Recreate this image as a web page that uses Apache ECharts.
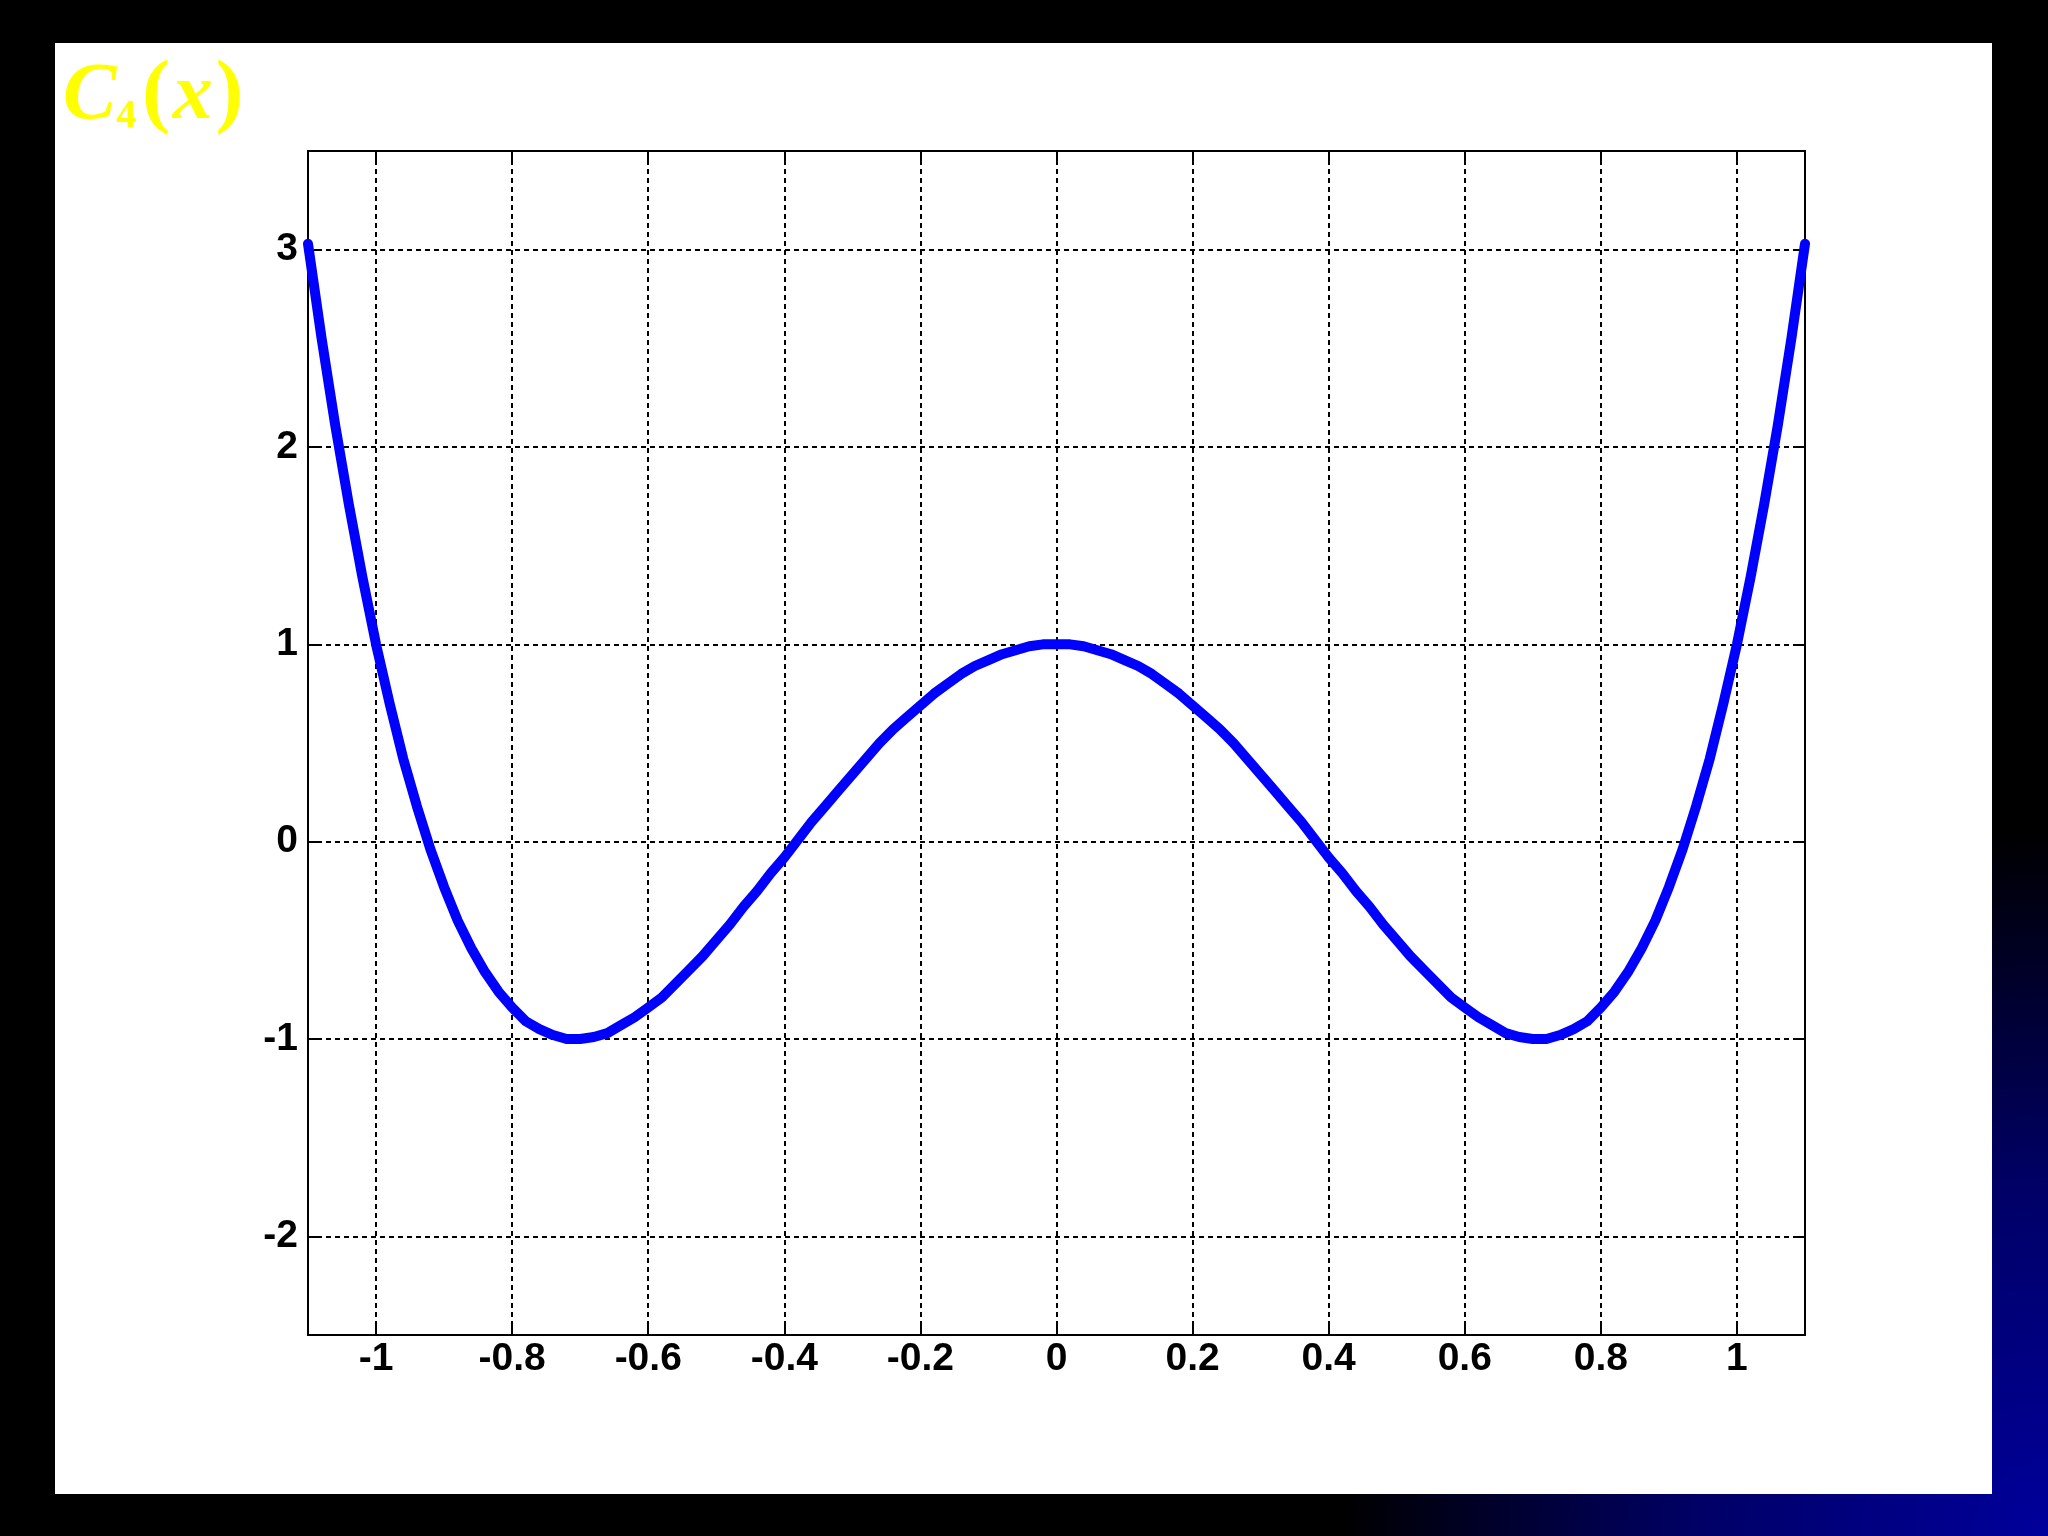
<!DOCTYPE html>
<html>
<head>
<meta charset="utf-8">
<script src="https://cdn.jsdelivr.net/npm/echarts@6/dist/echarts.min.js"></script>
<style>
html,body{margin:0;padding:0;background:#000;}
#chart{width:2048px;height:1536px;}
</style>
</head>
<body>
<div id="chart"></div>
<script>
// x positions sampled along the curve
const xValues = [
 -1.10,-1.08,-1.06,-1.04,-1.02,-1.00,-0.98,-0.96,-0.94,-0.92,-0.90,-0.88,-0.86,-0.84,-0.82,-0.80,
 -0.78,-0.76,-0.74,-0.72,-0.70,-0.68,-0.66,-0.64,-0.62,-0.60,-0.58,-0.56,-0.54,-0.52,-0.50,-0.48,
 -0.46,-0.44,-0.42,-0.40,-0.38,-0.36,-0.34,-0.32,-0.30,-0.28,-0.26,-0.24,-0.22,-0.20,-0.18,-0.16,
 -0.14,-0.12,-0.10,-0.08,-0.06,-0.04,-0.02,0.00,0.02,0.04,0.06,0.08,0.10,0.12,0.14,0.16,0.18,0.20,
 0.22,0.24,0.26,0.28,0.30,0.32,0.34,0.36,0.38,0.40,0.42,0.44,0.46,0.48,0.50,0.52,0.54,0.56,0.58,
 0.60,0.62,0.64,0.66,0.68,0.70,0.72,0.74,0.76,0.78,0.80,0.82,0.84,0.86,0.88,0.90,0.92,0.94,0.96,
 0.98,1.00,1.02,1.04,1.06,1.08,1.10
];
// C4(x) values
const yValues = [
 3.03,2.55,2.11,1.71,1.34,1.00,0.70,0.42,0.18,-0.04,-0.23,-0.40,-0.54,-0.66,-0.76,-0.84,
 -0.91,-0.95,-0.98,-1.00,-1.00,-0.99,-0.97,-0.93,-0.89,-0.84,-0.79,-0.72,-0.65,-0.58,-0.50,-0.42,
 -0.33,-0.25,-0.16,-0.08,0.01,0.10,0.18,0.26,0.34,0.42,0.50,0.57,0.63,0.69,0.75,0.80,
 0.85,0.89,0.92,0.95,0.97,0.99,1.00,1.00,1.00,0.99,0.97,0.95,0.92,0.89,0.85,0.80,0.75,0.69,
 0.63,0.57,0.50,0.42,0.34,0.26,0.18,0.10,0.01,-0.08,-0.16,-0.25,-0.33,-0.42,-0.50,-0.58,-0.65,-0.72,-0.79,
 -0.84,-0.89,-0.93,-0.97,-0.99,-1.00,-1.00,-0.98,-0.95,-0.91,-0.84,-0.76,-0.66,-0.54,-0.40,-0.23,-0.04,0.18,0.42,
 0.70,1.00,1.34,1.71,2.11,2.55,3.03
];
const xTicks = [-1,-0.8,-0.6,-0.4,-0.2,0,0.2,0.4,0.6,0.8,1];
const xTickLabels = ['-1','-0.8','-0.6','-0.4','-0.2','0','0.2','0.4','0.6','0.8','1'];
const yTicks = [-2,-1,0,1,2,3];
const yTickLabels = ['-2','-1','0','1','2','3'];
const titleText = 'C4(x)';

const seriesData = xValues.map((x, i) => [x, yValues[i]]);

const labelFont = {fontFamily: 'Liberation Sans', fontWeight: 'bold', fontSize: 39, color: '#000'};
const gridLine = {show: true, lineStyle: {color: '#000', width: 2, type: [5, 4]}};
const axisLineStyle = {show: true, onZero: false, lineStyle: {color: '#000', width: 2}};

function fmt(list, labels) {
  return function (v) {
    for (let i = 0; i < list.length; i++) if (Math.abs(list[i] - v) < 1e-9) return labels[i];
    return '';
  };
}

const chart = echarts.init(document.getElementById('chart'), null, {renderer: 'canvas'});
chart.setOption({
  backgroundColor: '#000',
  animation: false,
  graphic: [
    {type: 'rect', z: -100, silent: true, shape: {x: 0, y: 0, width: 2048, height: 1536},
     style: {fill: {type: 'radial', x: 1, y: 1, r: 0.46, colorStops: [
       {offset: 0, color: '#00009C'}, {offset: 0.5, color: '#000066'}, {offset: 1, color: '#000000'}]}}},
    {type: 'rect', z: -90, silent: true, shape: {x: 55, y: 43, width: 1937, height: 1451},
     style: {fill: '#ffffff'}},
    {type: 'text', z: 10, silent: true, x: 63, y: 57,
     style: {
       text: '{i|' + titleText.charAt(0) + '}{s|' + titleText.charAt(1) + '}{p|' + titleText.charAt(2) + '}{x|' + titleText.charAt(3) + '}{q|' + titleText.charAt(4) + '}',
       verticalAlign: 'top', align: 'left',
       rich: {
         i: {fontFamily: 'Liberation Serif', fontStyle: 'italic', fontWeight: 'bold', fontSize: 80, lineHeight: 80, fill: '#FFFF00', verticalAlign: 'bottom'},
         s: {fontFamily: 'Liberation Serif', fontWeight: 'bold', fontSize: 40, lineHeight: 32, fill: '#FFFF00', verticalAlign: 'bottom'},
         p: {fontFamily: 'Liberation Serif', fontWeight: 'bold', fontSize: 82, lineHeight: 80, fill: '#FFFF00', verticalAlign: 'bottom', padding: [0, 0, 0, 6]},
         x: {fontFamily: 'Liberation Serif', fontStyle: 'italic', fontWeight: 'bold', fontSize: 80, lineHeight: 80, fill: '#FFFF00', verticalAlign: 'bottom', padding: [0, 0, 0, 3]},
         q: {fontFamily: 'Liberation Serif', fontWeight: 'bold', fontSize: 82, lineHeight: 80, fill: '#FFFF00', verticalAlign: 'bottom', padding: [0, 0, 0, 3]}
       }
     }}
  ],
  grid: {left: 308, top: 151, width: 1497, height: 1184, show: true, borderColor: '#000', borderWidth: 2, backgroundColor: 'transparent'},
  xAxis: [
    {type: 'value', min: -1.1, max: 1.1, position: 'bottom',
     axisLine: axisLineStyle,
     axisTick: {show: true, inside: true, length: 10, customValues: xTicks, lineStyle: {color: '#000', width: 2}},
     axisLabel: Object.assign({show: true, margin: 5, customValues: xTicks, formatter: fmt(xTicks, xTickLabels)}, labelFont),
     splitLine: gridLine},
    {type: 'value', min: -1.1, max: 1.1, position: 'top',
     axisLine: axisLineStyle,
     axisTick: {show: true, inside: true, length: 10, customValues: xTicks, lineStyle: {color: '#000', width: 2}},
     axisLabel: {show: false},
     splitLine: {show: false}}
  ],
  yAxis: [
    {type: 'value', min: -2.5, max: 3.5, position: 'left',
     axisLine: axisLineStyle,
     axisTick: {show: true, inside: true, length: 10, customValues: yTicks, lineStyle: {color: '#000', width: 2}},
     axisLabel: Object.assign({show: true, margin: 10, customValues: yTicks, formatter: fmt(yTicks, yTickLabels)}, labelFont),
     splitLine: gridLine},
    {type: 'value', min: -2.5, max: 3.5, position: 'right',
     axisLine: axisLineStyle,
     axisTick: {show: true, inside: true, length: 10, customValues: yTicks, lineStyle: {color: '#000', width: 2}},
     axisLabel: {show: false},
     splitLine: {show: false}}
  ],
  series: [{
    type: 'line', xAxisIndex: 0, yAxisIndex: 0,
    data: seriesData, showSymbol: false, symbol: 'none', smooth: false, clip: true,
    lineStyle: {color: '#0000FF', width: 10, join: 'round', cap: 'round'},
    z: 5
  }]
});
</script>
</body>
</html>
